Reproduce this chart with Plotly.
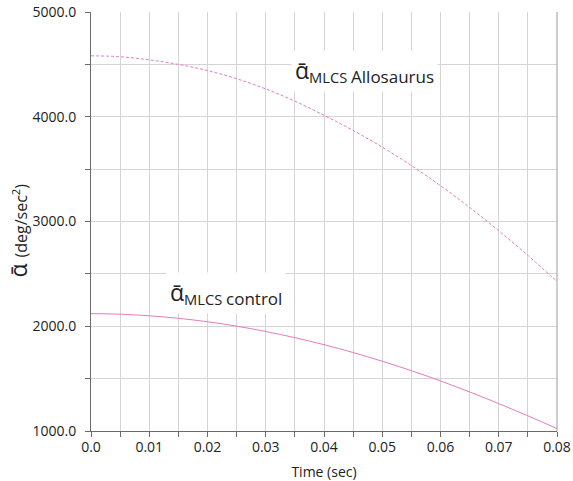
import plotly.graph_objects as go

time_s = [0.0, 0.005, 0.01, 0.015, 0.02, 0.025, 0.03, 0.035, 0.04,
          0.045, 0.05, 0.055, 0.06, 0.065, 0.07, 0.075, 0.08]
alpha_allosaurus = [4582, 4573, 4543, 4500, 4441, 4363, 4266, 4149, 4014,
                    3869, 3710, 3534, 3342, 3134, 2912, 2676, 2427]
alpha_control = [2120, 2115, 2100, 2076, 2043, 2001, 1950, 1891, 1824,
                 1749, 1666, 1576, 1478, 1373, 1262, 1145, 1023]

x_tickvals = [0.0, 0.01, 0.02, 0.03, 0.04, 0.05, 0.06, 0.07, 0.08]
x_ticktext = ["0.0", "0.01", "0.02", "0.03", "0.04", "0.05", "0.06", "0.07", "0.08"]
y_tickvals = [1000, 2000, 3000, 4000, 5000]
y_ticktext = ["1000.0", "2000.0", "3000.0", "4000.0", "5000.0"]

PINK = "#e37cbf"
FONT = "Open Sans"
GRID = "#d4d4d4"
AXIS = "#6a6a6a"

fig = go.Figure()
fig.add_trace(go.Scatter(x=time_s, y=alpha_allosaurus, mode="lines",
                         line=dict(color=PINK, width=1, dash="3px,2px", shape="spline"),
                         showlegend=False))
fig.add_trace(go.Scatter(x=time_s, y=alpha_control, mode="lines",
                         line=dict(color=PINK, width=1, shape="spline"),
                         showlegend=False))

fig.update_layout(
    width=573, height=481,
    margin=dict(l=91, r=16, t=12, b=50, autoexpand=False),
    paper_bgcolor="white", plot_bgcolor="white",
    font=dict(family=FONT, size=14, color="#222"),
    showlegend=False,
    xaxis=dict(range=[0, 0.08], tickvals=x_tickvals, ticktext=x_ticktext,
               automargin=False, tickfont=dict(size=14), ticklabelstandoff=-2,
               showgrid=True, gridcolor=GRID, gridwidth=1,
               showline=True, linecolor=AXIS, linewidth=1,
               ticks="outside", ticklen=5, tickcolor=AXIS,
               minor=dict(dtick=0.005, tick0=0, ticks="outside", ticklen=5,
                          tickcolor=AXIS, showgrid=True, gridcolor=GRID, gridwidth=1),
               zeroline=False,
               title=dict(text="Time (sec)", font=dict(size=14), standoff=12)),
    yaxis=dict(range=[1000, 5000], tickvals=y_tickvals, ticktext=y_ticktext,
               automargin=False, tickfont=dict(size=14), ticklabelstandoff=6,
               showgrid=True, gridcolor=GRID, gridwidth=1,
               showline=True, linecolor=AXIS, linewidth=1,
               ticks="outside", ticklen=5, tickcolor=AXIS,
               minor=dict(dtick=500, tick0=0, ticks="outside", ticklen=5,
                          tickcolor=AXIS, showgrid=True, gridcolor=GRID, gridwidth=1),
               zeroline=False),
)

# right border line
fig.add_shape(type="line", xref="paper", yref="paper", x0=1, x1=1, y0=0, y1=1,
              line=dict(color="#9a9a9a", width=1))

# y-axis title
fig.add_annotation(xref="paper", yref="paper", x=-0.157, y=0.478,
                   xanchor="center", yanchor="middle", textangle=-90, showarrow=False,
                   text="ᾱ <span style='font-size:16px'>(deg/sec<sup>2</sup>)</span>",
                   font=dict(size=23, color="#222", family=FONT))

# curve labels
fig.add_annotation(x=0.0128, y=2320, xref="x", yref="y", xanchor="left", yanchor="middle",
                   showarrow=False, bgcolor="white", borderpad=3,
                   text="<span style='font-size:23px'>ᾱ</span><sub>MLCS </sub>"
                        "<sub><span style='font-size:17px'>control</span></sub>",
                   font=dict(size=21, color="#222", family=FONT))
fig.add_annotation(x=0.0343, y=4435, xref="x", yref="y", xanchor="left", yanchor="middle",
                   showarrow=False, bgcolor="white", borderpad=3,
                   text="<span style='font-size:23px'>ᾱ</span><sub>MLCS </sub>"
                        "<sub><span style='font-size:17px'>Allosaurus</span></sub>",
                   font=dict(size=21, color="#222", family=FONT))

fig.write_html("out.html", config={"displayModeBar": False},
               post_script="document.body.style.margin='0';document.body.style.overflow='hidden';")
